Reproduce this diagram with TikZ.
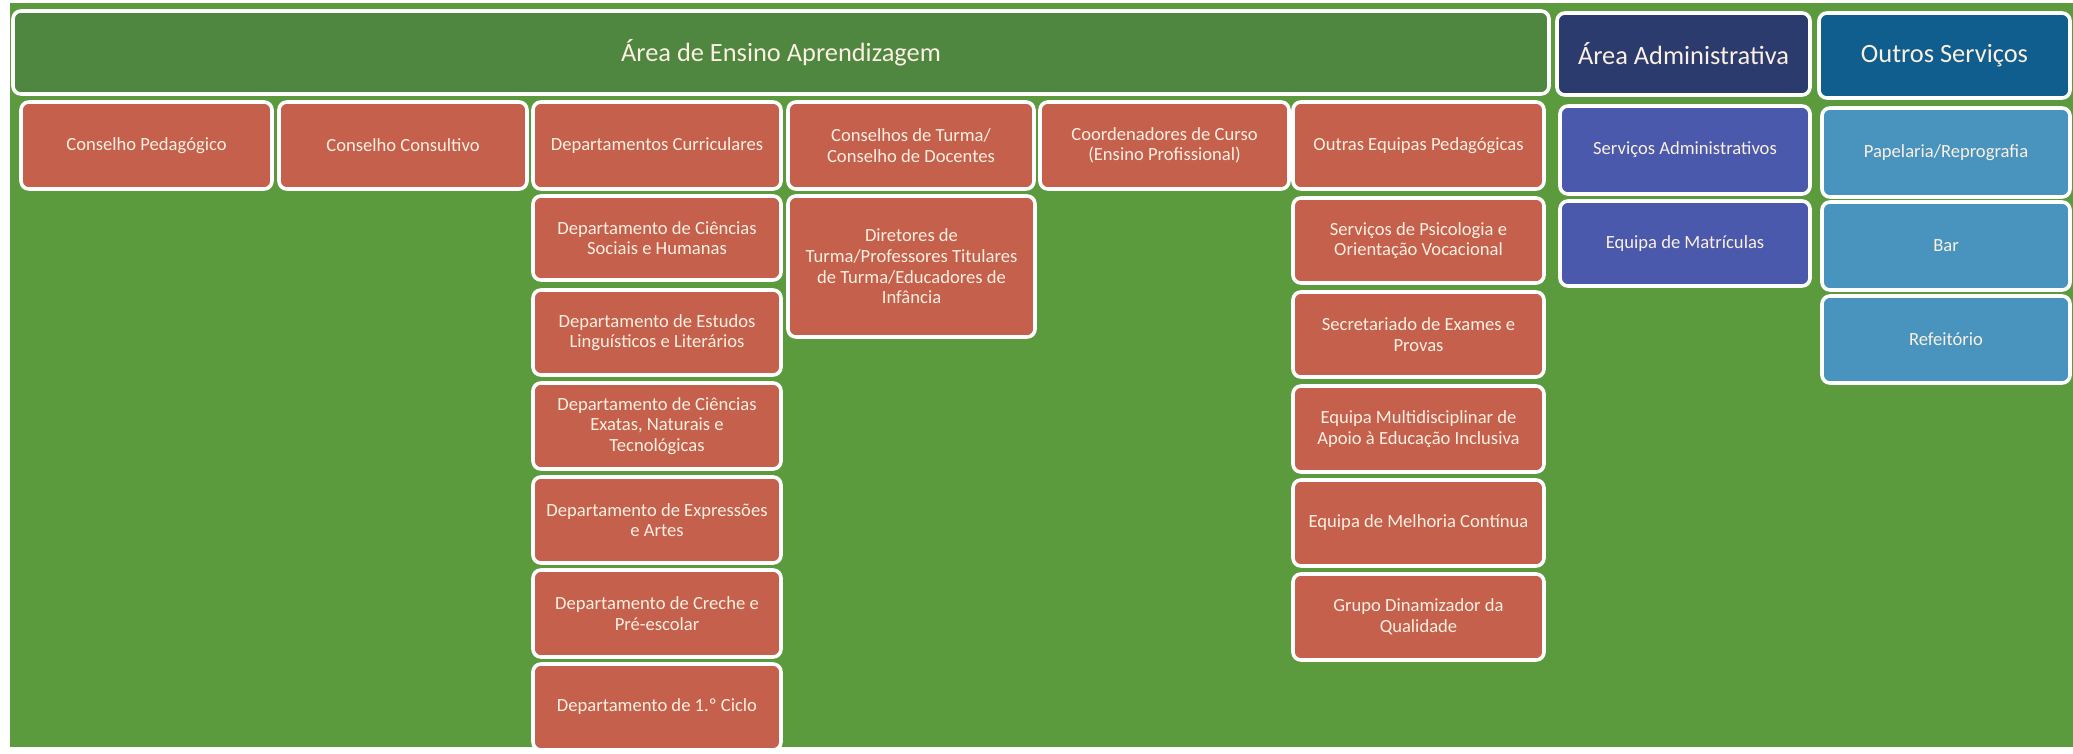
\documentclass[tikz,border=0pt]{standalone}
\usepackage{fontspec}
\setmainfont{Carlito}
\definecolor{bggreen}{HTML}{5C9A3E}
\definecolor{hdgreen}{HTML}{4F8640}
\definecolor{boxred}{HTML}{C5604C}
\definecolor{hdnavy}{HTML}{2C3B6E}
\definecolor{admblue}{HTML}{4A59AC}
\definecolor{hdteal}{HTML}{0F5E8D}
\definecolor{svcblue}{HTML}{4894BE}
\definecolor{txt}{HTML}{FBF0E2}
\tikzset{
  base/.style={draw=white, line width=1.8pt, rounded corners=4pt, inner sep=2pt,
    align=center, text=txt, font=\fontsize{9.3pt}{10.3pt}\selectfont},
  redbox/.style={base, fill=boxred},
  admbox/.style={base, fill=admblue},
  svcbox/.style={base, fill=svcblue},
  hdbox/.style={base, font=\fontsize{13.2pt}{15pt}\selectfont},
}
\newcommand\bx[7]{%
  \pgfmathsetmacro\cx{(#3+#5)/2}\pgfmathsetmacro\cy{(#4+#6)/2}%
  \pgfmathsetmacro\ww{(#5-#3)*0.5}\pgfmathsetmacro\hh{(#6-#4)*0.5}%
  \node[#2, minimum width=\ww pt, minimum height=\hh pt] (#1) at (\cx,\cy) {#7};}
\begin{document}
\begin{tikzpicture}[x=0.5pt,y=-0.5pt]
\fill[white] (0,0) rectangle (2073,754);
\fill[bggreen] (10,3) rectangle (2073,747);
\useasboundingbox (0,0) rectangle (2073,754);
% headers
\bx{h1}{hdbox, fill=hdgreen}{13}{11}{1549}{94}{Área de Ensino Aprendizagem}
\bx{h2}{hdbox, fill=hdnavy}{1557}{13}{1810}{95}{Área Administrativa}
\bx{h3}{hdbox, fill=hdteal}{1819}{13}{2070}{98}{Outros Serviços}
% row 1
\bx{a1}{redbox}{21}{102}{272}{189}{Conselho Pedagógico}
\bx{a2}{redbox}{279}{102}{527}{189}{Conselho Consultivo}
\bx{a3}{redbox}{533}{102}{781}{189}{Departamentos Curriculares}
\bx{a4}{redbox}{788}{102}{1034}{189}{Conselhos de Turma/\\Conselho de Docentes}
\bx{a5}{redbox}{1040}{102}{1289}{189}{Coordenadores de Curso\\(Ensino Profissional)}
\bx{a6}{redbox}{1293}{102}{1544}{189}{Outras Equipas Pedagógicas}
\bx{sa}{admbox}{1560}{106}{1810}{194}{Serviços Administrativos}
\bx{pap}{svcbox}{1822}{108}{2070}{197}{Papelaria/Reprografia}
% departamentos
\bx{d1}{redbox}{533}{196}{781}{280}{Departamento de Ciências\\Sociais e Humanas}
\bx{d2}{redbox}{533}{290}{781}{375}{Departamento de Estudos\\Linguísticos e Literários}
\bx{d3}{redbox}{533}{383}{781}{469}{Departamento de Ciências\\Exatas, Naturais e\\Tecnológicas}
\bx{d4}{redbox}{533}{477}{781}{563}{Departamento de Expressões\\e Artes}
\bx{d5}{redbox}{533}{570}{781}{657}{Departamento de Creche e\\Pré-escolar}
\bx{d6}{redbox}{533}{664}{781}{750}{Departamento de 1.º Ciclo}
% diretores
\bx{dt}{redbox}{788}{196}{1035}{337}{Diretores de\\Turma/Professores Titulares\\de Turma/Educadores de\\Infância}
% outras equipas
\bx{o1}{redbox}{1293}{198}{1544}{283}{Serviços de Psicologia e\\Orientação Vocacional}
\bx{o2}{redbox}{1293}{292}{1544}{377}{Secretariado de Exames e\\Provas}
\bx{o3}{redbox}{1293}{386}{1544}{472}{Equipa Multidisciplinar de\\Apoio à Educação Inclusiva}
\bx{o4}{redbox}{1293}{480}{1544}{566}{Equipa de Melhoria Contínua}
\bx{o5}{redbox}{1293}{574}{1544}{660}{Grupo Dinamizador da\\Qualidade}
% admin
\bx{mat}{admbox}{1560}{201}{1810}{286}{Equipa de Matrículas}
% outros servicos
\bx{bar}{svcbox}{1822}{202}{2070}{290}{Bar}
\bx{ref}{svcbox}{1822}{296}{2070}{383}{Refeitório}
\end{tikzpicture}
\end{document}
